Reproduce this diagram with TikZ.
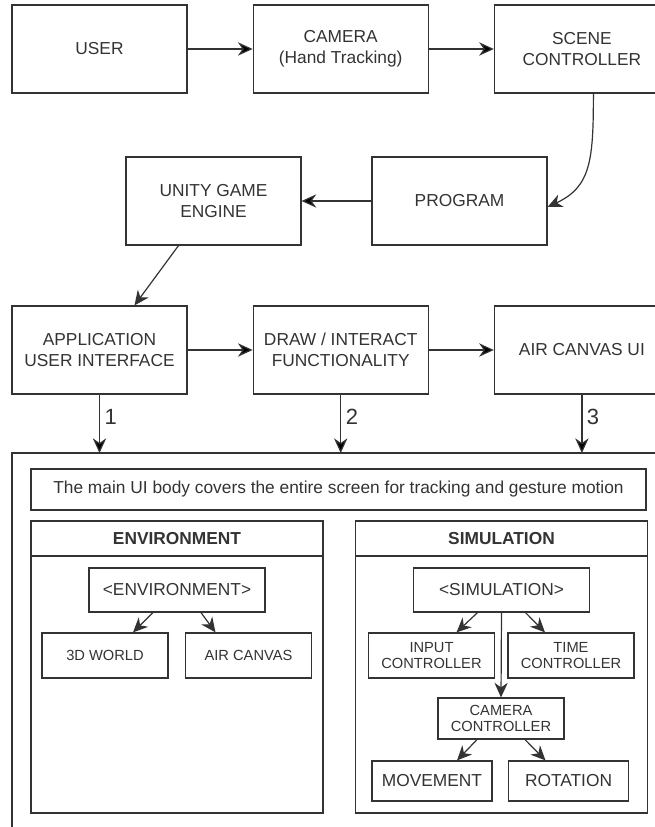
\documentclass[tikz,border=0pt]{standalone}
\usepackage{fontspec}
\setmainfont{Liberation Sans}
\usetikzlibrary{positioning,arrows.meta,quotes,calc}
\definecolor{ink}{HTML}{333333}
\tikzset{%
  arrow/.style     = { -{Stealth[length=11pt, width=10pt, inset=3.5pt]}, line width = 0.9pt, draw = ink },
  frame/.style     = { draw = ink, line width = 0.9pt },
  block/.style     = { frame, text = ink, align = center, font = \fontsize{13}{16}\selectfont,
                       minimum width = 131.25pt, minimum height = 66pt, node distance = 48.75pt },
  note/.style      = { frame, text = ink, font = \fontsize{13}{16}\selectfont,
                       minimum width = 461.25pt, minimum height = 30.75pt },
  panel/.style     = { frame, minimum width = 219pt, minimum height = 219pt },
  panelhead/.style = { frame, text = ink, font = \fontsize{13}{16}\selectfont\bfseries,
                       minimum width = 219pt, minimum height = 26.25pt },
  tag/.style       = { frame, text = ink, font = \fontsize{13}{16}\selectfont,
                       minimum width = 132pt, minimum height = 33pt },
  item/.style      = { frame, text = ink, align = center, font = \fontsize{11}{12.5}\selectfont,
                       minimum width = 94.5pt, minimum height = 33.75pt },
  leafbox/.style   = { frame, text = ink, font = \fontsize{13}{16}\selectfont,
                       minimum width = 90pt, minimum height = 30pt },
  numlabel/.style  = { text = ink, font = \fontsize{16.5}{20}\selectfont, pos = 0.38 }
}

\begin{document}
\begin{tikzpicture}[x=0.75pt, y=-0.75pt]
\useasboundingbox (0,0) rectangle (655,827);
\clip (0,0) rectangle (655,827);

% top chain
\node(user)   [block] at (99.5,49)       {USER};
\node(camera) [block, right = of user]   {CAMERA\\(Hand Tracking)};
\node(scene)  [block, right = of camera] {SCENE\\CONTROLLER};

\node(program) [block] at (459.5,201) {PROGRAM};
\node(unity)   [block] at (213.5,201) {UNITY GAME\\ENGINE};

\node(app)    [block] at (99.5,350)     {APPLICATION\\USER INTERFACE};
\node(draw)   [block, right = of app]   {DRAW / INTERACT\\FUNCTIONALITY};
\node(airui)  [block, right = of draw]  {AIR CANVAS UI};

\draw[arrow] (user) edge (camera);
\draw[arrow] (camera) edge (scene);
\draw[arrow] ($(scene.south)+(11.5,0)$) to[out=-90, in=25, out looseness=1.4] ([yshift=-4.5pt]program.east);
\draw[arrow] (program) edge (unity);
\draw[arrow] ($(unity.south)+(-35,0)$) -- ($(app.north)+(35,0)$);
\draw[arrow] (app) edge (draw);
\draw[arrow] (draw) edge (airui);

% main UI body
\draw[frame] (12,453) rectangle (690,860);
\coordinate (bodytop) at (12,453);

\draw[arrow] (app)   edge["1" numlabel] (app |- bodytop);
\draw[arrow] (draw)  edge["2" numlabel] (draw |- bodytop);
\draw[arrow] (airui) edge["3" numlabel] (airui |- bodytop);

\node(note) [note] at (338.5,489.5) {The main UI body covers the entire screen for tracking and gesture motion};

% environment panel
\node(env)     [panel] at (177,667) {};
\node(envhead) [panelhead, below = 0pt of env.north] {ENVIRONMENT};
\node(envtag)  [tag] at (177,590)       {<ENVIRONMENT>};
\node(world)   [item] at (105,655.5)    {3D WORLD};
\node(canvas)  [item] at (248.5,655.5)  {AIR CANVAS};

\draw[arrow] ($(envtag.south)+(-24,0)$) -- ($(world.north)+(28,0)$);
\draw[arrow] ($(envtag.south)+(24,0)$)  -- ($(canvas.north)+(-33,0)$);

% simulation panel
\node(sim)     [panel] at (501.5,667) {};
\node(simhead) [panelhead, below = 0pt of sim.north] {SIMULATION};
\node(simtag)  [tag] at (501.5,590)    {<SIMULATION>};
\node(input)   [item] at (431.5,655.5) {INPUT\\CONTROLLER};
\node(time)    [item] at (571,655.5)   {TIME\\CONTROLLER};
\node(camctrl) [item, minimum height = 30.75pt] at (501,718.5) {CAMERA\\CONTROLLER};
\node(move)    [leafbox] at (432,781)   {MOVEMENT};
\node(rot)     [leafbox] at (568.5,781) {ROTATION};

\draw[arrow] ($(simtag.south)+(-24,0)$) -- ($(input.north)+(25,0)$);
\draw[arrow] ($(simtag.south)+(24,0)$)  -- ($(time.north)+(-26,0)$);
\draw[arrow] (simtag.south) -- (camctrl.north);
\draw[arrow] ($(camctrl.south)+(-24,0)$) -- ($(move.north)+(25,0)$);
\draw[arrow] ($(camctrl.south)+(24,0)$)  -- ($(rot.north)+(-23,0)$);
\end{tikzpicture}
\end{document}
